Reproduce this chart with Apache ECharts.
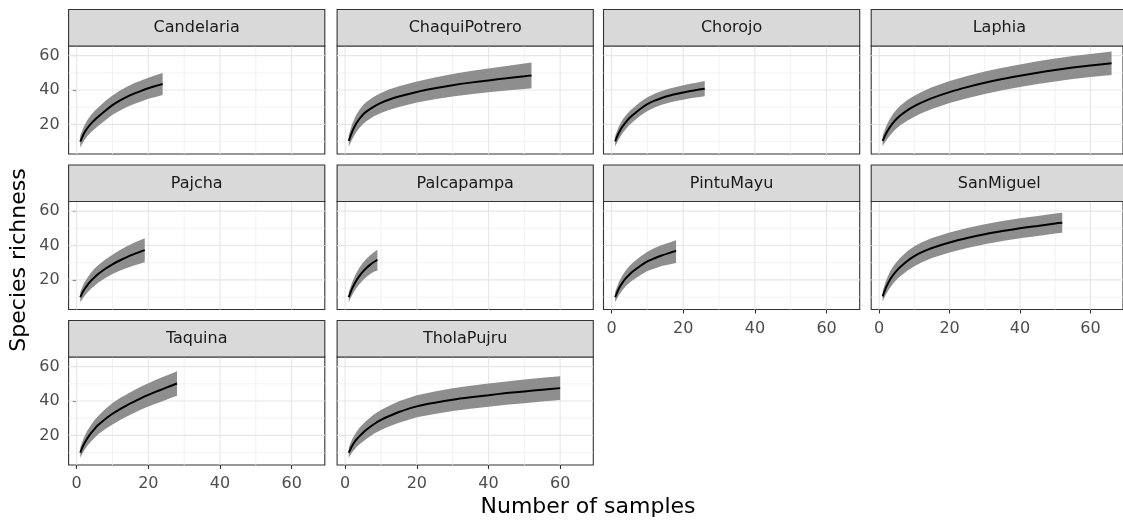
<!DOCTYPE html>
<html><head><meta charset="utf-8">
<script src="https://cdn.jsdelivr.net/npm/echarts@6/dist/echarts.min.js"></script>
<style>html,body{margin:0;padding:0;background:#fff}#c{width:1123px;height:522px}</style>
</head><body><div id="c"></div>
<script>
// ---------------- DATA ----------------
const siteNames = ['Candelaria','ChaquiPotrero','Chorojo','Laphia','Pajcha','Palcapampa','PintuMayu','SanMiguel','Taquina','TholaPujru'];

const candelariaX    = [1,2,3,4,5,6,8,10,12,14,16,18,20,22,24];
const candelariaMean = [10,14.6,17.9,20.5,22.6,24.5,28.0,31.2,33.8,36.0,37.9,39.5,41.0,42.3,43.5];
const candelariaLo   = [6.6,10.4,13.2,15.5,17.4,19.1,22.4,25.6,28.0,30.1,31.9,33.4,34.9,36.0,37.1];
const candelariaHi   = [13.4,18.8,22.6,25.5,27.8,29.9,33.6,36.8,39.6,41.9,43.9,45.6,47.1,48.6,49.9];

const chaquiPotreroX    = [1,2,3,4,5,6,8,10,12,15,20,25,30,35,40,45,50,52];
const chaquiPotreroMean = [10.4,16.0,20.2,23.3,25.8,27.6,30.4,32.5,34.2,36.2,38.9,41.0,42.8,44.3,45.6,46.8,48.0,48.5];
const chaquiPotreroLo   = [7.1,11.5,15.2,18.0,20.3,22.0,24.7,26.7,28.3,30.2,32.8,34.7,36.3,37.6,38.7,39.7,40.6,41.0];
const chaquiPotreroHi   = [13.7,20.5,25.2,28.6,31.3,33.2,36.1,38.3,40.1,42.2,45.0,47.3,49.3,51.0,52.5,53.9,55.4,56.0];

const chorojoX    = [1,2,3,4,5,6,8,10,12,14,16,18,20,22,24,26];
const chorojoMean = [10.2,15.0,18.6,21.4,23.7,25.6,29.0,31.8,33.8,35.4,36.7,37.7,38.6,39.4,40.1,40.8];
const chorojoLo   = [7.2,11.4,14.7,17.4,19.7,21.6,25.0,27.8,29.8,31.4,32.6,33.6,34.4,35.2,35.8,36.4];
const chorojoHi   = [13.2,18.6,22.5,25.4,27.7,29.6,33.0,35.8,37.8,39.4,40.8,41.8,42.8,43.6,44.4,45.2];

const laphiaX    = [1,2,3,4,5,6,8,10,12,15,20,25,30,35,40,45,50,55,60,66];
const laphiaMean = [10.4,14.8,18.2,21.0,23.3,25.2,28.2,30.6,32.7,35.3,38.8,41.7,44.2,46.4,48.3,50.1,51.7,53.1,54.3,55.6];
const laphiaLo   = [7.4,10.6,13.4,15.8,17.8,19.5,22.2,24.5,26.5,29.0,32.4,35.2,37.7,39.8,41.7,43.5,45.0,46.4,47.6,48.8];
const laphiaHi   = [13.4,19.0,23.0,26.2,28.8,30.9,34.2,36.7,38.9,41.6,45.2,48.2,50.7,53.0,54.9,56.7,58.4,59.8,61.0,62.4];

const pajchaX    = [1,2,3,4,5,6,8,10,12,14,16,19];
const pajchaMean = [10.0,14.0,17.0,19.5,21.6,23.4,26.5,29.1,31.3,33.3,35.0,37.3];
const pajchaLo   = [7.0,10.1,12.7,14.9,16.6,18.3,21.1,23.5,25.3,27.0,28.4,30.3];
const pajchaHi   = [13.0,17.9,21.3,24.1,26.6,28.5,31.9,34.7,37.3,39.6,41.6,44.3];

const palcapampaX    = [1,2,3,4,5,6,7,8,9];
const palcapampaMean = [10.0,15.2,19.2,22.4,25.0,27.1,28.9,30.4,31.7];
const palcapampaLo   = [7.2,11.4,14.8,17.6,19.9,21.8,23.4,24.7,25.5];
const palcapampaHi   = [12.8,19.0,23.6,27.2,30.1,32.4,34.4,36.1,37.6];

const pintuMayuX    = [1,2,3,4,5,6,8,10,12,14,16,18];
const pintuMayuMean = [10.0,14.8,18.3,21.0,23.2,25.0,28.1,30.8,32.6,34.2,35.6,36.9];
const pintuMayuLo   = [7.0,11.0,14.0,16.4,18.3,19.9,22.7,25.2,26.7,28.1,28.9,29.8];
const pintuMayuHi   = [13.0,18.6,22.6,25.6,28.1,30.1,33.5,36.4,38.5,40.3,41.6,43.0];

const sanMiguelX    = [1,2,3,4,5,6,8,10,12,15,20,25,30,35,40,45,50,52];
const sanMiguelMean = [10.4,15.8,19.8,22.9,25.4,27.5,31.0,33.8,36.0,38.6,41.8,44.4,46.6,48.4,50.0,51.4,52.8,53.3];
const sanMiguelLo   = [7.4,11.8,15.2,17.9,20.2,22.1,25.4,28.0,30.2,32.8,36.0,38.6,40.8,42.6,44.2,45.6,47.0,47.5];
const sanMiguelHi   = [13.4,19.8,24.4,27.9,30.6,32.9,36.6,39.6,41.8,44.4,47.6,50.2,52.4,54.2,55.8,57.2,58.6,59.1];

const taquinaX    = [1,2,3,4,5,6,8,10,12,14,16,18,20,22,24,26,28];
const taquinaMean = [10.0,14.8,18.4,21.3,23.8,26.0,29.6,32.6,35.2,37.5,39.6,41.7,43.6,45.3,46.9,48.6,50.2];
const taquinaLo   = [7.0,10.9,14.0,16.5,18.7,20.7,23.8,26.4,28.8,31.0,33.0,35.0,36.8,38.4,39.9,41.6,43.1];
const taquinaHi   = [13.0,18.7,22.8,26.1,28.9,31.3,35.4,38.8,41.6,44.0,46.2,48.4,50.4,52.2,53.9,55.6,57.3];

const tholaPujruX    = [1,2,3,4,5,6,8,10,12,15,20,25,30,35,40,45,50,55,60];
const tholaPujruMean = [10.0,14.2,17.2,19.6,21.6,23.4,26.5,29.0,31.0,33.6,36.9,39.0,40.8,42.2,43.4,44.6,45.6,46.6,47.5];
const tholaPujruLo   = [7.0,10.3,12.8,14.8,16.5,18.1,20.9,23.2,25.0,27.4,30.5,32.5,34.2,35.5,36.6,37.8,38.7,39.7,40.6];
const tholaPujruHi   = [13.0,18.1,21.6,24.4,26.7,28.7,32.1,34.8,37.0,39.8,43.3,45.5,47.4,48.9,50.2,51.4,52.5,53.5,54.4];

const xTickValues  = [0,20,40,60];
const xMinorValues = [10,30,50];
const yTickValues  = [20,40,60];
const yMinorValues = [10,30,50];
const xAxisTitle = 'Number of samples';
const yAxisTitle = 'Species richness';

// ---------------- BUILD ----------------
const siteData = [
  {x:candelariaX, mean:candelariaMean, lo:candelariaLo, hi:candelariaHi},
  {x:chaquiPotreroX, mean:chaquiPotreroMean, lo:chaquiPotreroLo, hi:chaquiPotreroHi},
  {x:chorojoX, mean:chorojoMean, lo:chorojoLo, hi:chorojoHi},
  {x:laphiaX, mean:laphiaMean, lo:laphiaLo, hi:laphiaHi},
  {x:pajchaX, mean:pajchaMean, lo:pajchaLo, hi:pajchaHi},
  {x:palcapampaX, mean:palcapampaMean, lo:palcapampaLo, hi:palcapampaHi},
  {x:pintuMayuX, mean:pintuMayuMean, lo:pintuMayuLo, hi:pintuMayuHi},
  {x:sanMiguelX, mean:sanMiguelMean, lo:sanMiguelLo, hi:sanMiguelHi},
  {x:taquinaX, mean:taquinaMean, lo:taquinaLo, hi:taquinaHi},
  {x:tholaPujruX, mean:tholaPujruMean, lo:tholaPujruLo, hi:tholaPujruHi}
];

const X_MIN = -2.25, X_MAX = 69.25, Y_MIN = 2.8, Y_MAX = 65.6;
const colLeft = [68.6, 337.1, 603.5, 871.2];
const panelW = 256.2;
const rowTop = [46, 201.5, 357];
const panelH = 108;
const stripH = 36.5;
const FONT = 'DejaVu Sans';

const grids = [], xAxes = [], yAxes = [], series = [], graphics = [];
siteNames.forEach((name, i) => {
  const row = Math.floor(i / 4), col = i % 4;
  const left = colLeft[col], top = rowTop[row];
  const showX = (i + 4) >= siteNames.length;
  const showY = col === 0;
  grids.push({left: left, top: top, width: panelW, height: panelH, show: true,
    backgroundColor: '#fff', borderColor: '#333', borderWidth: 1.1, containLabel: false});
  xAxes.push({gridIndex: i, type: 'value', min: X_MIN, max: X_MAX,
    axisLine: {show: false}, splitLine: {show: false},
    axisTick: {show: showX, length: 4, customValues: xTickValues, lineStyle: {color: '#333', width: 1.1}},
    axisLabel: {show: showX, customValues: xTickValues, color: '#4d4d4d', fontSize: 16, fontFamily: FONT, margin: 11}});
  yAxes.push({gridIndex: i, type: 'value', min: Y_MIN, max: Y_MAX,
    axisLine: {show: false}, splitLine: {show: false},
    axisTick: {show: showY, length: 4, customValues: yTickValues, lineStyle: {color: '#333', width: 1.1}},
    axisLabel: {show: showY, customValues: yTickValues, color: '#4d4d4d', fontSize: 16, fontFamily: FONT, margin: 9}});

  // grid lines through the axis scales
  series.push({type: 'custom', xAxisIndex: i, yAxisIndex: i, z: 1, silent: true, data: [[0, 0]],
    renderItem: (params, api) => {
      const ch = [];
      const vline = (v, c, w) => { const a = api.coord([v, Y_MIN]), b = api.coord([v, Y_MAX]);
        ch.push({type: 'line', shape: {x1: a[0], y1: a[1], x2: b[0], y2: b[1]}, style: {stroke: c, lineWidth: w}}); };
      const hline = (v, c, w) => { const a = api.coord([X_MIN, v]), b = api.coord([X_MAX, v]);
        ch.push({type: 'line', shape: {x1: a[0], y1: a[1], x2: b[0], y2: b[1]}, style: {stroke: c, lineWidth: w}}); };
      xMinorValues.forEach(v => vline(v, '#efefef', 0.8));
      yMinorValues.forEach(v => hline(v, '#efefef', 0.8));
      xTickValues.forEach(v => vline(v, '#e6e6e6', 1.1));
      yTickValues.forEach(v => hline(v, '#e6e6e6', 1.1));
      return {type: 'group', children: ch};
    }});

  const d = siteData[i];
  series.push({type: 'custom', xAxisIndex: i, yAxisIndex: i, z: 2, silent: true, data: [[d.x[0], d.mean[0]]],
    renderItem: (params, api) => {
      const pts = [];
      for (let k = 0; k < d.x.length; k++) pts.push(api.coord([d.x[k], d.hi[k]]));
      for (let k = d.x.length - 1; k >= 0; k--) pts.push(api.coord([d.x[k], d.lo[k]]));
      return {type: 'polygon', shape: {points: pts}, style: {fill: '#8e8e8e'}};
    }});
  series.push({type: 'line', xAxisIndex: i, yAxisIndex: i, z: 3, silent: true,
    data: d.x.map((xv, k) => [xv, d.mean[k]]), showSymbol: false, symbol: 'none', smooth: 0.25,
    lineStyle: {color: '#000', width: 2}});

  graphics.push({type: 'rect', shape: {x: left, y: top - stripH, width: panelW, height: stripH},
    style: {fill: '#d9d9d9', stroke: '#333', lineWidth: 1.1}, z: 10});
  graphics.push({type: 'text', x: left + panelW / 2, y: top - stripH / 2 + 0.5, z: 11,
    style: {text: name, align: 'center', verticalAlign: 'middle', fill: '#1a1a1a', fontSize: 16, fontFamily: FONT}});
});

graphics.push({type: 'text', x: 588, y: 507, z: 11,
  style: {text: xAxisTitle, align: 'center', verticalAlign: 'middle', fill: '#000', fontSize: 22, fontFamily: FONT}});
graphics.push({type: 'text', x: 19, y: 260, rotation: Math.PI / 2, z: 11,
  style: {text: yAxisTitle, align: 'center', verticalAlign: 'middle', fill: '#000', fontSize: 22, fontFamily: FONT}});

const chart = echarts.init(document.getElementById('c'), null, {renderer: 'canvas'});
chart.setOption({
  animation: false,
  backgroundColor: '#fff',
  grid: grids, xAxis: xAxes, yAxis: yAxes, series: series, graphic: graphics
});
</script>
</body></html>
